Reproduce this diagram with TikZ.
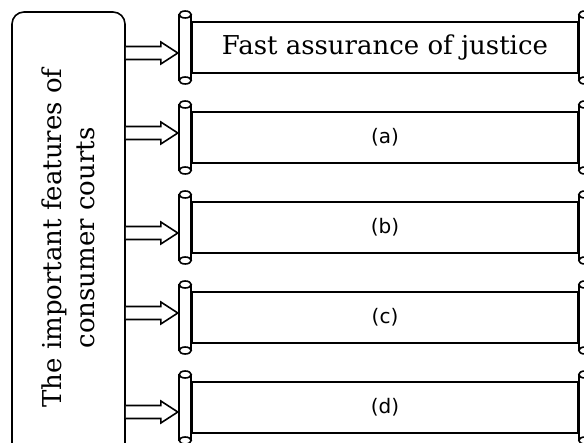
\documentclass[tikz,border=0pt]{standalone}
\usepackage{fontspec}
\setmainfont{DejaVu Serif}
\setsansfont{DejaVu Sans}
\usetikzlibrary{calc}
\tikzset{
  featbox/.style={draw, rounded corners=12pt, minimum width=113pt, minimum height=470pt, inner sep=0pt},
  feattext/.style={font=\fontsize{26}{33}\selectfont, align=center, rotate=90},
  scroll/.style={draw, minimum width=386pt, minimum height=51pt, inner sep=0pt, font=\fontsize{26}{30}\selectfont},
  roll/.style={draw, fill=white},
  fatarrow/.style={draw, fill=white},
}
\newcommand\tagfont{\sffamily\fontsize{20}{24}\selectfont}

\begin{document}
\begin{tikzpicture}[x=1pt, y=-1pt, line width=1.6pt]
  \clip (0,0) rectangle (584,443);
  % left box, open at the bottom
  \node[featbox] (feat) at (68.5,247) {};
  \node[feattext] (ftxt) at (68.5,238) {The important features of\\consumer courts};
  % scrolls and arrows
  \foreach \i/\y/\a/\t in {1/47.5/53/{Fast assurance of justice}, 2/137.5/133/{\tagfont(a)},
      3/227.5/233/{\tagfont(b)}, 4/317.5/313/{\tagfont(c)}, 5/407.5/412/{\tagfont(d)}} {
    \node[scroll] (s\i) at (385,\y) {\t};
    \draw[roll] ($(s\i.west)+(-12,-33)$) rectangle ($(s\i.west)+(0,33)$);
    \draw[roll] ($(s\i.west)+(-6,-33)$) ellipse [x radius=6pt, y radius=3.5pt];
    \draw[roll] ($(s\i.west)+(-6,33)$) ellipse [x radius=6pt, y radius=3.5pt];
    \draw[roll] ($(s\i.east)+(0,-33)$) rectangle ($(s\i.east)+(12,33)$);
    \draw[roll] ($(s\i.east)+(6,-33)$) ellipse [x radius=6pt, y radius=3.5pt];
    \draw[roll] ($(s\i.east)+(6,33)$) ellipse [x radius=6pt, y radius=3.5pt];
    \draw[fatarrow] ($(feat.east |- 0,\a)+(0,-6.5)$) -- ++(35,0) -- ++(0,-4.5) -- ++(17,11)
      -- ++(-17,11) -- ++(0,-4.5) -- ++(-35,0);
  }
\end{tikzpicture}
\end{document}
